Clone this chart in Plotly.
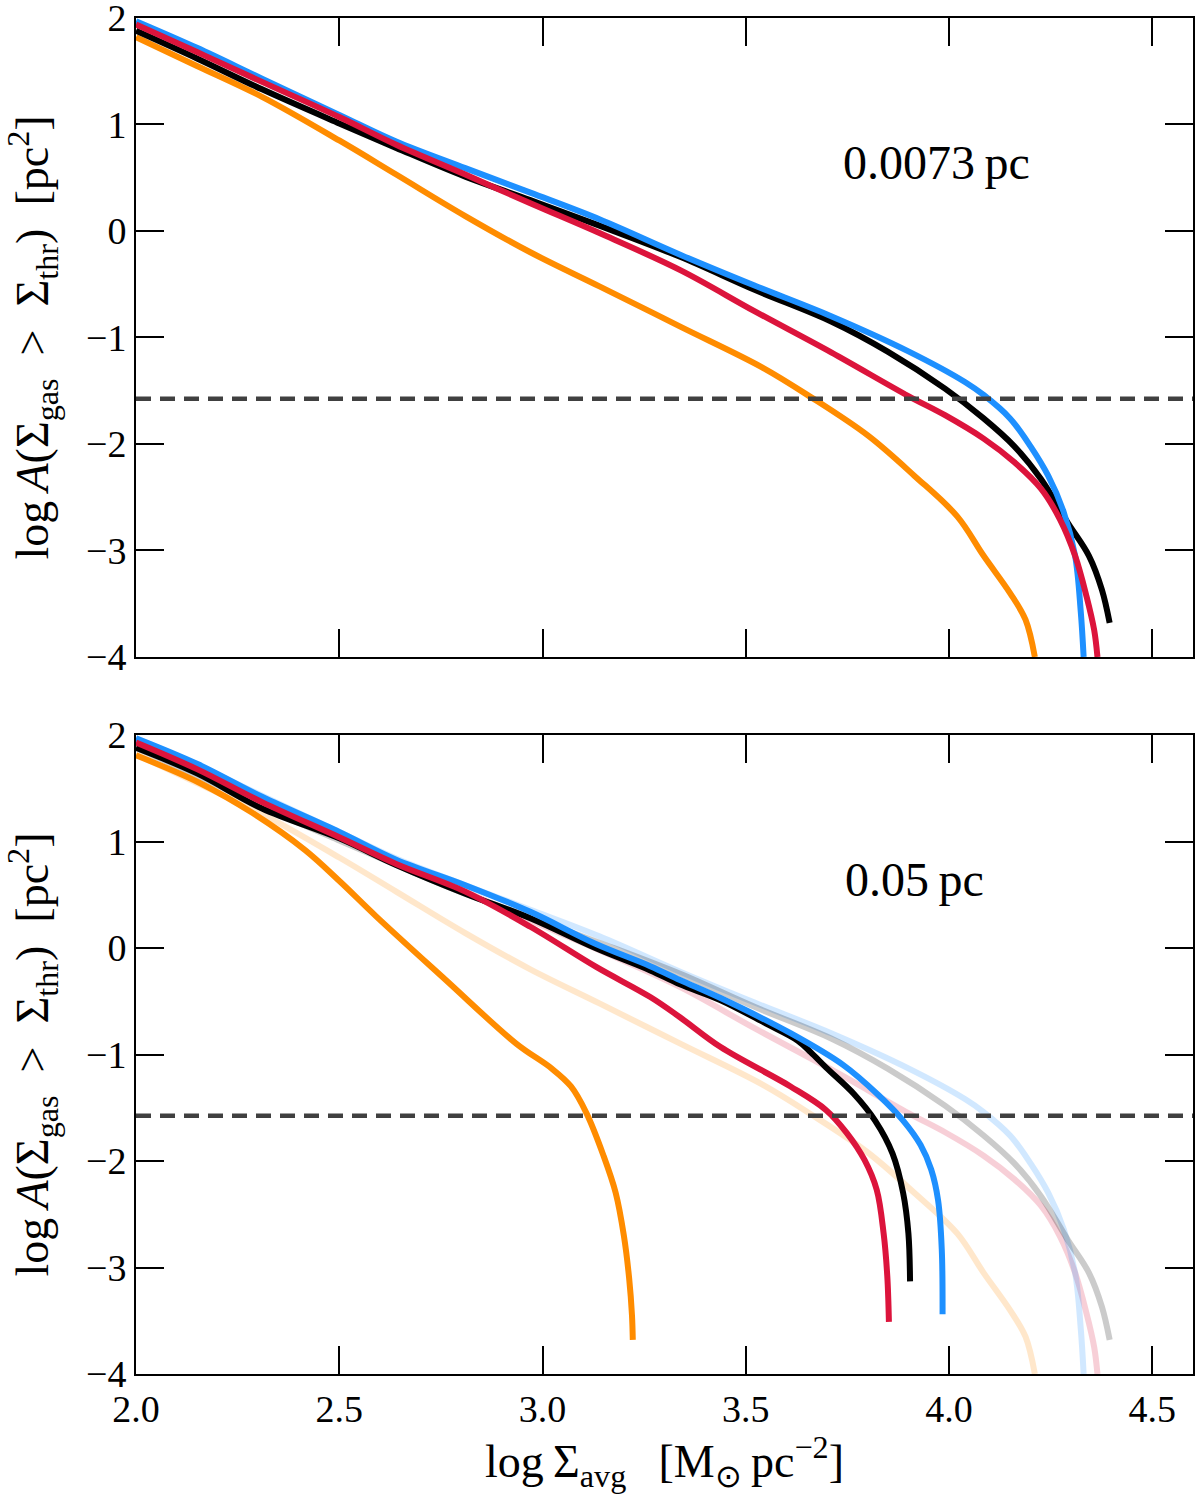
import plotly.graph_objects as go

# ---------------- data ----------------
# Top panel (0.0073 pc) -- also shown faded in the bottom panel
top_orange_x = [2.00, 2.15, 2.31, 2.50, 2.64, 2.81, 2.97, 3.14, 3.34, 3.54, 3.66, 3.80, 3.915, 4.02, 4.085, 4.15, 4.188, 4.211]
top_orange_y = [1.82, 1.55, 1.26, 0.85, 0.53, 0.14, -0.20, -0.52, -0.90, -1.28, -1.56, -1.92, -2.30, -2.68, -3.05, -3.40, -3.65, -4.00]

top_black_x = [2.00, 2.15, 2.31, 2.50, 2.64, 2.81, 2.97, 3.14, 3.34, 3.52, 3.71, 3.85, 3.99, 4.085, 4.16, 4.226, 4.292, 4.344, 4.376, 4.395]
top_black_y = [1.88, 1.62, 1.33, 1.01, 0.78, 0.51, 0.29, 0.05, -0.245, -0.55, -0.85, -1.135, -1.48, -1.76, -2.02, -2.33, -2.74, -3.05, -3.37, -3.68]

top_blue_x = [2.00, 2.15, 2.31, 2.50, 2.64, 2.81, 2.97, 3.14, 3.34, 3.52, 3.71, 3.90, 4.04, 4.085, 4.15, 4.20, 4.244, 4.282, 4.31, 4.324, 4.331]
top_blue_y = [1.97, 1.72, 1.43, 1.09, 0.84, 0.59, 0.36, 0.11, -0.225, -0.51, -0.80, -1.13, -1.42, -1.54, -1.76, -2.02, -2.30, -2.64, -3.05, -3.58, -4.00]

top_red_x = [2.00, 2.15, 2.31, 2.50, 2.64, 2.81, 2.97, 3.14, 3.34, 3.52, 3.71, 3.90, 3.99, 4.085, 4.16, 4.226, 4.273, 4.31, 4.338, 4.357, 4.365]
top_red_y = [1.94, 1.68, 1.40, 1.07, 0.81, 0.53, 0.26, -0.02, -0.37, -0.75, -1.14, -1.55, -1.73, -1.95, -2.17, -2.42, -2.71, -3.05, -3.43, -3.75, -4.00]

# Bottom panel (0.05 pc)
bot_orange_x = [2.00, 2.157, 2.286, 2.416, 2.503, 2.59, 2.762, 2.936, 3.022, 3.07, 3.108, 3.15, 3.18, 3.20, 3.213, 3.22, 3.222]
bot_orange_y = [1.81, 1.55, 1.27, 0.92, 0.62, 0.30, -0.30, -0.90, -1.13, -1.30, -1.55, -1.95, -2.30, -2.70, -3.10, -3.45, -3.68]

bot_black_x = [2.00, 2.15, 2.31, 2.50, 2.64, 2.81, 2.97, 3.13, 3.265, 3.338, 3.438, 3.55, 3.628, 3.66, 3.697, 3.766, 3.818, 3.861, 3.887, 3.90, 3.904]
bot_black_y = [1.88, 1.64, 1.31, 1.03, 0.78, 0.51, 0.28, 0.00, -0.21, -0.34, -0.49, -0.71, -0.87, -0.98, -1.12, -1.37, -1.62, -1.93, -2.30, -2.68, -3.13]

bot_blue_x = [2.00, 2.15, 2.31, 2.50, 2.64, 2.81, 2.97, 3.13, 3.265, 3.338, 3.438, 3.61, 3.74, 3.826, 3.887, 3.93, 3.956, 3.973, 3.982, 3.984]
bot_blue_y = [1.97, 1.73, 1.42, 1.09, 0.83, 0.59, 0.34, 0.04, -0.17, -0.30, -0.47, -0.80, -1.10, -1.38, -1.62, -1.85, -2.08, -2.37, -2.83, -3.44]

bot_red_x = [2.00, 2.15, 2.31, 2.50, 2.64, 2.81, 2.97, 3.133, 3.265, 3.338, 3.438, 3.61, 3.697, 3.749, 3.792, 3.822, 3.839, 3.848, 3.852]
bot_red_y = [1.93, 1.68, 1.37, 1.04, 0.79, 0.53, 0.20, -0.18, -0.46, -0.65, -0.93, -1.30, -1.52, -1.74, -1.99, -2.27, -2.68, -3.08, -3.51]

threshold = -1.575          # dashed horizontal line, log A
panel_labels = ["0.0073\u2009pc", "0.05\u2009pc"]
x_range = [2.0, 4.6]
y_range = [-4.0, 2.0]

# ---------------- styling ----------------
ORANGE = "#FF8C00"
RED = "#DC143C"
BLUE = "#1E90FF"
BLACK = "#000000"
LW = 6
FONT = "Liberation Serif"

fig = go.Figure()

def add_line(x, y, color, xa, ya, opacity=1.0):
    fig.add_trace(go.Scatter(
        x=x, y=y, mode="lines", xaxis=xa, yaxis=ya, opacity=opacity,
        line=dict(color=color, width=LW, shape="spline", smoothing=1.0),
        showlegend=False, hoverinfo="skip"))

# top panel
add_line(top_orange_x, top_orange_y, ORANGE, "x", "y")
add_line(top_black_x, top_black_y, BLACK, "x", "y")
add_line(top_blue_x, top_blue_y, BLUE, "x", "y")
add_line(top_red_x, top_red_y, RED, "x", "y")

# bottom panel: faded copies of top curves
add_line(top_orange_x, top_orange_y, ORANGE, "x2", "y2", 0.2)
add_line(top_red_x, top_red_y, RED, "x2", "y2", 0.2)
add_line(top_blue_x, top_blue_y, BLUE, "x2", "y2", 0.2)
add_line(top_black_x, top_black_y, BLACK, "x2", "y2", 0.2)
# bottom panel solid curves
add_line(bot_orange_x, bot_orange_y, ORANGE, "x2", "y2")
add_line(bot_black_x, bot_black_y, BLACK, "x2", "y2")
add_line(bot_blue_x, bot_blue_y, BLUE, "x2", "y2")
add_line(bot_red_x, bot_red_y, RED, "x2", "y2")

for xr, yr in (("x domain", "y"), ("x2 domain", "y2")):
    fig.add_shape(type="line", xref=xr, yref=yr, x0=0, x1=1, y0=threshold, y1=threshold,
                  line=dict(color="#404040", width=4.5, dash="15px,9px"), layer="above")

axis_common = dict(showline=True, linecolor="black", linewidth=2, mirror="ticks",
                   ticks="inside", ticklen=28, tickwidth=2, tickcolor="black",
                   showgrid=False, zeroline=False, automargin=False,
                   ticklabeloverflow="allow",
                   tickfont=dict(family=FONT, size=38, color="black"))

ytitle = "log\u2009<i>A</i>(Σ<sub>gas</sub>\u2002&gt;\u2002Σ<sub>thr</sub>)\u2002[pc<sup>2</sup>]"
xtitle = "log\u2009Σ<sub>avg</sub>\u2002\u2009[M<sub>⊙</sub>\u2009pc<sup>−2</sup>]"
TITLE_SIZE = 46

fig.update_layout(
    width=1200, height=1494,
    paper_bgcolor="white", plot_bgcolor="white",
    margin=dict(l=136, r=7, t=18, b=120, autoexpand=False),
    font=dict(family=FONT, size=38, color="black"),
    xaxis=dict(domain=[0, 1], anchor="y", range=x_range, dtick=0.5, showticklabels=False, **axis_common),
    yaxis=dict(domain=[0.5288, 1], anchor="x", range=y_range, dtick=1,
               title=dict(text=ytitle, font=dict(family=FONT, size=TITLE_SIZE), standoff=24), **axis_common),
    xaxis2=dict(domain=[0, 1], anchor="y2", range=x_range, dtick=0.5, tickformat=".1f",
                title=dict(text=xtitle, font=dict(family=FONT, size=TITLE_SIZE), standoff=8), **axis_common),
    yaxis2=dict(domain=[0, 0.4712], anchor="x2", range=y_range, dtick=1,
                title=dict(text=ytitle, font=dict(family=FONT, size=TITLE_SIZE), standoff=24), **axis_common),
    annotations=[
        dict(text=panel_labels[0], x=3.97, y=0.64, xref="x", yref="y", showarrow=False,
             font=dict(family=FONT, size=48, color="black")),
        dict(text=panel_labels[1], x=3.915, y=0.64, xref="x2", yref="y2", showarrow=False,
             font=dict(family=FONT, size=48, color="black")),
    ],
)

fig.write_html("out.html", config={"displayModeBar": False},
               post_script="document.body.style.margin='0';document.body.style.overflow='hidden';")
